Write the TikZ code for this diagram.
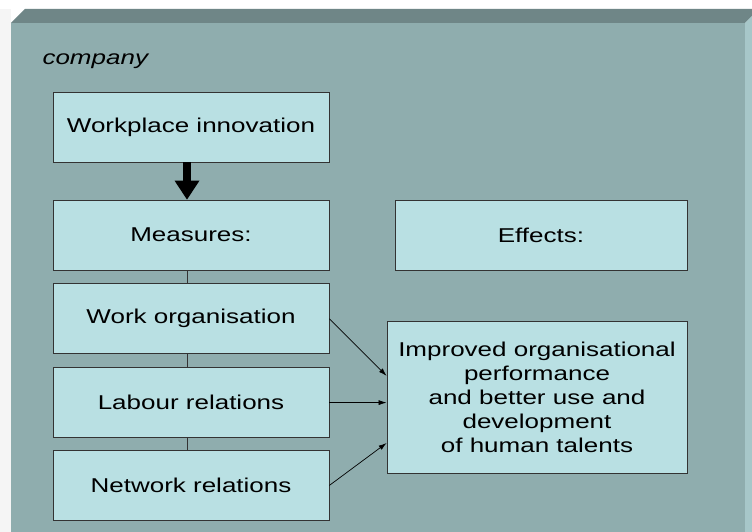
\documentclass[tikz,border=0pt]{standalone}
\usepackage{fontspec}
\setmainfont[FakeStretch=1.3]{Liberation Sans}
\usetikzlibrary{arrows.meta,positioning}
\definecolor{panelgray}{HTML}{8FADAE}
\definecolor{paneltop}{HTML}{6F8687}
\definecolor{panelside}{HTML}{A7C7C9}
\definecolor{boxfill}{HTML}{B9E0E3}
\definecolor{boxline}{HTML}{333333}
\begin{document}
\begin{tikzpicture}[x=1pt,y=-1pt,
    box/.style={draw=boxline,line width=0.8pt,fill=boxfill,minimum width=276pt,minimum height=70pt,inner sep=0pt,align=center,font=\fontsize{20}{24}\selectfont},
    link/.style={draw=black,line width=0.7pt,-{Latex[length=8pt,width=5pt]}}]
        \useasboundingbox (0,0) rectangle (752,532);
        \fill[white](0,0)rectangle(752,532);
        \fill[gray!8](0,9)rectangle(11,532);
        % company panel
        \fill[panelgray](11,23)rectangle(745,532);
        \fill[paneltop](11,23)--(25,9)--(752,9)--(752,16)--(745,23)--cycle;
        \fill[panelside](745,23)--(752,16)--(752,532)--(745,532)--cycle;
        \node[anchor=base west,font=\fontsize{20}{24}\selectfont\itshape](company)at(39,65){company};
        % measures
        \node[box](wi)at(191,127){Workplace innovation};
        \node[box](meas)at(191,235){Measures:};
        \node[box,below=13pt of meas](worg){Work organisation};
        \node[box,below=13pt of worg](lab){Labour relations};
        \node[box,below=12pt of lab](net){Network relations};
        % effects
        \node[box,minimum width=292pt](eff)at(541,235){Effects:};
        \node[box,minimum width=300pt,minimum height=152pt](imp)at(537,397){Improved organisational\\performance\\and better use and\\development\\of human talents};
        \draw[line width=8pt,-{Triangle[length=19pt,width=25pt,line width=0pt]}]([xshift=-4pt]wi.south)--([xshift=-4pt]meas.north);
        \foreach \a/\b in {meas/worg,worg/lab,lab/net} \draw[boxline,line width=0.8pt]([xshift=-4pt]\a.south)--([xshift=-4pt]\b.north);
        \draw[link](worg.east)--(imp.172);
        \draw[link](lab.east)--(lab.east-|imp.west);
        \draw[link](net.east)--(imp.197);
    \end{tikzpicture}
\end{document}
